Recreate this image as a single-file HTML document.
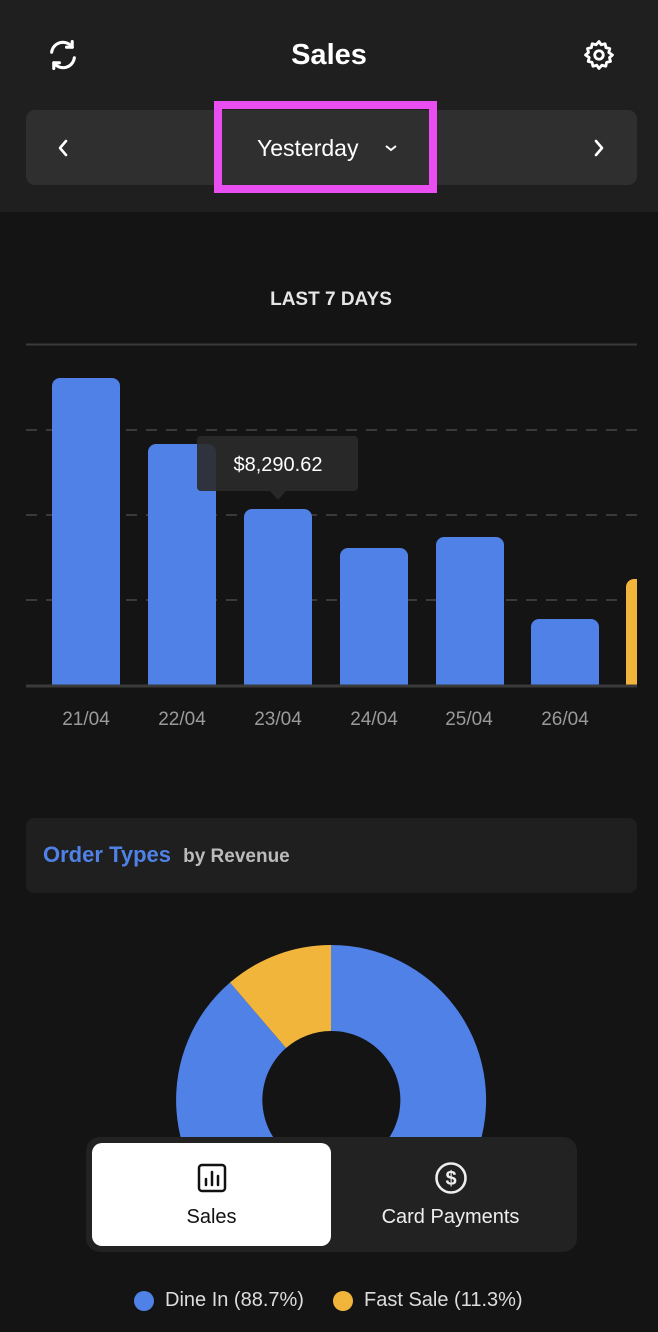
<!DOCTYPE html><html><head><meta charset="utf-8"><style>
*{margin:0;padding:0;box-sizing:border-box}
body{width:658px;height:1332px;background:#141414;position:relative;overflow:hidden;font-family:"Liberation Sans",sans-serif;color:#fff}
.a{position:absolute}
</style></head><body>
<div class="a" style="left:0;top:0;width:658px;height:212px;background:#1f1f1f"></div>
<svg class="a" style="left:46px;top:38px" width="34" height="34" viewBox="0 0 24 24" fill="none" stroke="#fff" stroke-width="2.2" stroke-linecap="round" stroke-linejoin="round"><path d="M4 10a8 8 0 0 1 14.5-3.5M20 14a8 8 0 0 1-14.5 3.5"/><path d="M18.5 2.5v4h-4M5.5 21.5v-4h4"/></svg>
<div class="a" style="left:0;width:658px;top:39px;text-align:center;font-size:29px;font-weight:bold">Sales</div>
<svg class="a" style="left:582px;top:38px" width="34" height="34" viewBox="0 0 24 24" fill="none" stroke="#fff" stroke-width="2"><circle cx="12" cy="12" r="3"/><path d="M12 2.5l1.6 2.3 2.7-.7.6 2.7 2.7.7-.7 2.7L21.5 12l-2.1 1.8.7 2.7-2.7.7-.6 2.7-2.7-.7L12 21.5l-1.6-2.3-2.7.7-.6-2.7-2.7-.7.7-2.7L2.5 12l2.1-1.8-.7-2.7 2.7-.7.6-2.7 2.7.7z" stroke-linejoin="round"/></svg>
<div class="a" style="left:26px;top:110px;width:611px;height:75px;background:#2f2f2f;border-radius:9px"></div>
<svg class="a" style="left:56px;top:139px" width="14" height="18"><path d="M10 2L4 9l6 7" stroke="#fff" stroke-width="2.6" fill="none" stroke-linecap="round" stroke-linejoin="round"/></svg>
<svg class="a" style="left:592px;top:139px" width="14" height="18"><path d="M4 2l6 7-6 7" stroke="#fff" stroke-width="2.6" fill="none" stroke-linecap="round" stroke-linejoin="round"/></svg>
<div class="a" style="left:214px;top:101px;width:223px;height:92px;border:8px solid #e94ff0"></div>
<div class="a" style="left:257px;top:135px;font-size:23px">Yesterday</div>
<svg class="a" style="left:384px;top:143px" width="14" height="10"><path d="M2 3l5 4 5-4" stroke="#fff" stroke-width="2" fill="none"/></svg>
<div class="a" style="left:0;width:662px;top:289px;text-align:center;font-size:19px;font-weight:bold;color:#e6e6e6">LAST 7 DAYS</div>
<svg class="a" style="left:0;top:330px" width="637" height="420">
<line x1="26" x2="637" y1="14.5" y2="14.5" stroke="#3a3a3a" stroke-width="2"/>
<g stroke="#3a3a3a" stroke-width="2" stroke-dasharray="11 9"><line x1="26" x2="637" y1="100" y2="100"/><line x1="26" x2="637" y1="185" y2="185"/><line x1="26" x2="637" y1="270" y2="270"/></g>
<g fill="#4f81e6">
<path d="M52 356V56a8 8 0 0 1 8-8h52a8 8 0 0 1 8 8v300z"/>
<path d="M148 356V122a8 8 0 0 1 8-8h52a8 8 0 0 1 8 8v234z"/>
<path d="M244 356V187a8 8 0 0 1 8-8h52a8 8 0 0 1 8 8v169z"/>
<path d="M340 356V226a8 8 0 0 1 8-8h52a8 8 0 0 1 8 8v130z"/>
<path d="M436 356V215a8 8 0 0 1 8-8h52a8 8 0 0 1 8 8v141z"/>
<path d="M531 356V297a8 8 0 0 1 8-8h52a8 8 0 0 1 8 8v59z"/>
</g>
<path d="M626 356V257a8 8 0 0 1 8-8h3v107z" fill="#f2b53c"/>
<line x1="26" x2="637" y1="356" y2="356" stroke="#3a3a3a" stroke-width="3"/>
<g fill="#2a2a2a" fill-opacity="0.9"><rect x="197" y="106" width="161" height="55" rx="4"/><path d="M270 161l8 9 8-9z"/></g>
<text x="278" y="141" text-anchor="middle" font-size="20" fill="#fff" font-family="Liberation Sans">$8,290.62</text>
<g font-size="19" fill="#9a9a9a" font-family="Liberation Sans" text-anchor="middle"><text x="86" y="395">21/04</text><text x="182" y="395">22/04</text><text x="278" y="395">23/04</text><text x="374" y="395">24/04</text><text x="469" y="395">25/04</text><text x="565" y="395">26/04</text><text x="660" y="395">27/04</text></g>
</svg>
<div class="a" style="left:26px;top:818px;width:611px;height:75px;background:#1f1f1f;border-radius:8px"></div>
<div class="a" style="left:43px;top:842px;font-size:22px;font-weight:bold;color:#4f81e6">Order Types <span style="font-size:19px;color:#bbb;margin-left:6px">by Revenue</span></div>
<svg class="a" style="left:0;top:0" width="658" height="1150">
<path d="M331 945A155 155 0 1 1 230 982.5L286 1048A69 69 0 1 0 331 1031Z" fill="#4f81e6"/>
<path d="M331 945V1031A69 69 0 0 0 286 1048L230 982.5A155 155 0 0 1 331 945Z" fill="#f2b53c"/>
</svg>
<div class="a" style="left:86px;top:1137px;width:491px;height:115px;background:#222;border-radius:14px"></div>
<div class="a" style="left:92px;top:1143px;width:239px;height:103px;background:#fff;border-radius:10px"></div>
<svg class="a" style="left:197px;top:1163px" width="30" height="30" viewBox="0 0 30 30" fill="none" stroke="#111" stroke-width="2.5" stroke-linecap="round"><rect x="2" y="2" width="26" height="26" rx="3"/><path d="M9 22v-6M15 22V9M21 22v-9"/></svg>
<div class="a" style="left:92px;width:239px;top:1206px;text-align:center;font-size:20px;color:#111">Sales</div>
<svg class="a" style="left:434px;top:1161px" width="34" height="34" viewBox="0 0 34 34" fill="none" stroke="#eee" stroke-width="2.6"><circle cx="17" cy="17" r="14.5"/><text x="17" y="24" text-anchor="middle" font-size="20" font-weight="bold" fill="#eee" stroke="none" font-family="Liberation Sans">$</text></svg>
<div class="a" style="left:331px;width:239px;top:1206px;text-align:center;font-size:20px;color:#eee">Card Payments</div>
<div class="a" style="left:134px;top:1291px;width:20px;height:20px;border-radius:50%;background:#4f81e6"></div>
<div class="a" style="left:165px;top:1289px;font-size:20px;color:#ddd">Dine In (88.7%)</div>
<div class="a" style="left:333px;top:1291px;width:20px;height:20px;border-radius:50%;background:#f2b53c"></div>
<div class="a" style="left:364px;top:1289px;font-size:20px;color:#ddd">Fast Sale (11.3%)</div>
</body></html>
